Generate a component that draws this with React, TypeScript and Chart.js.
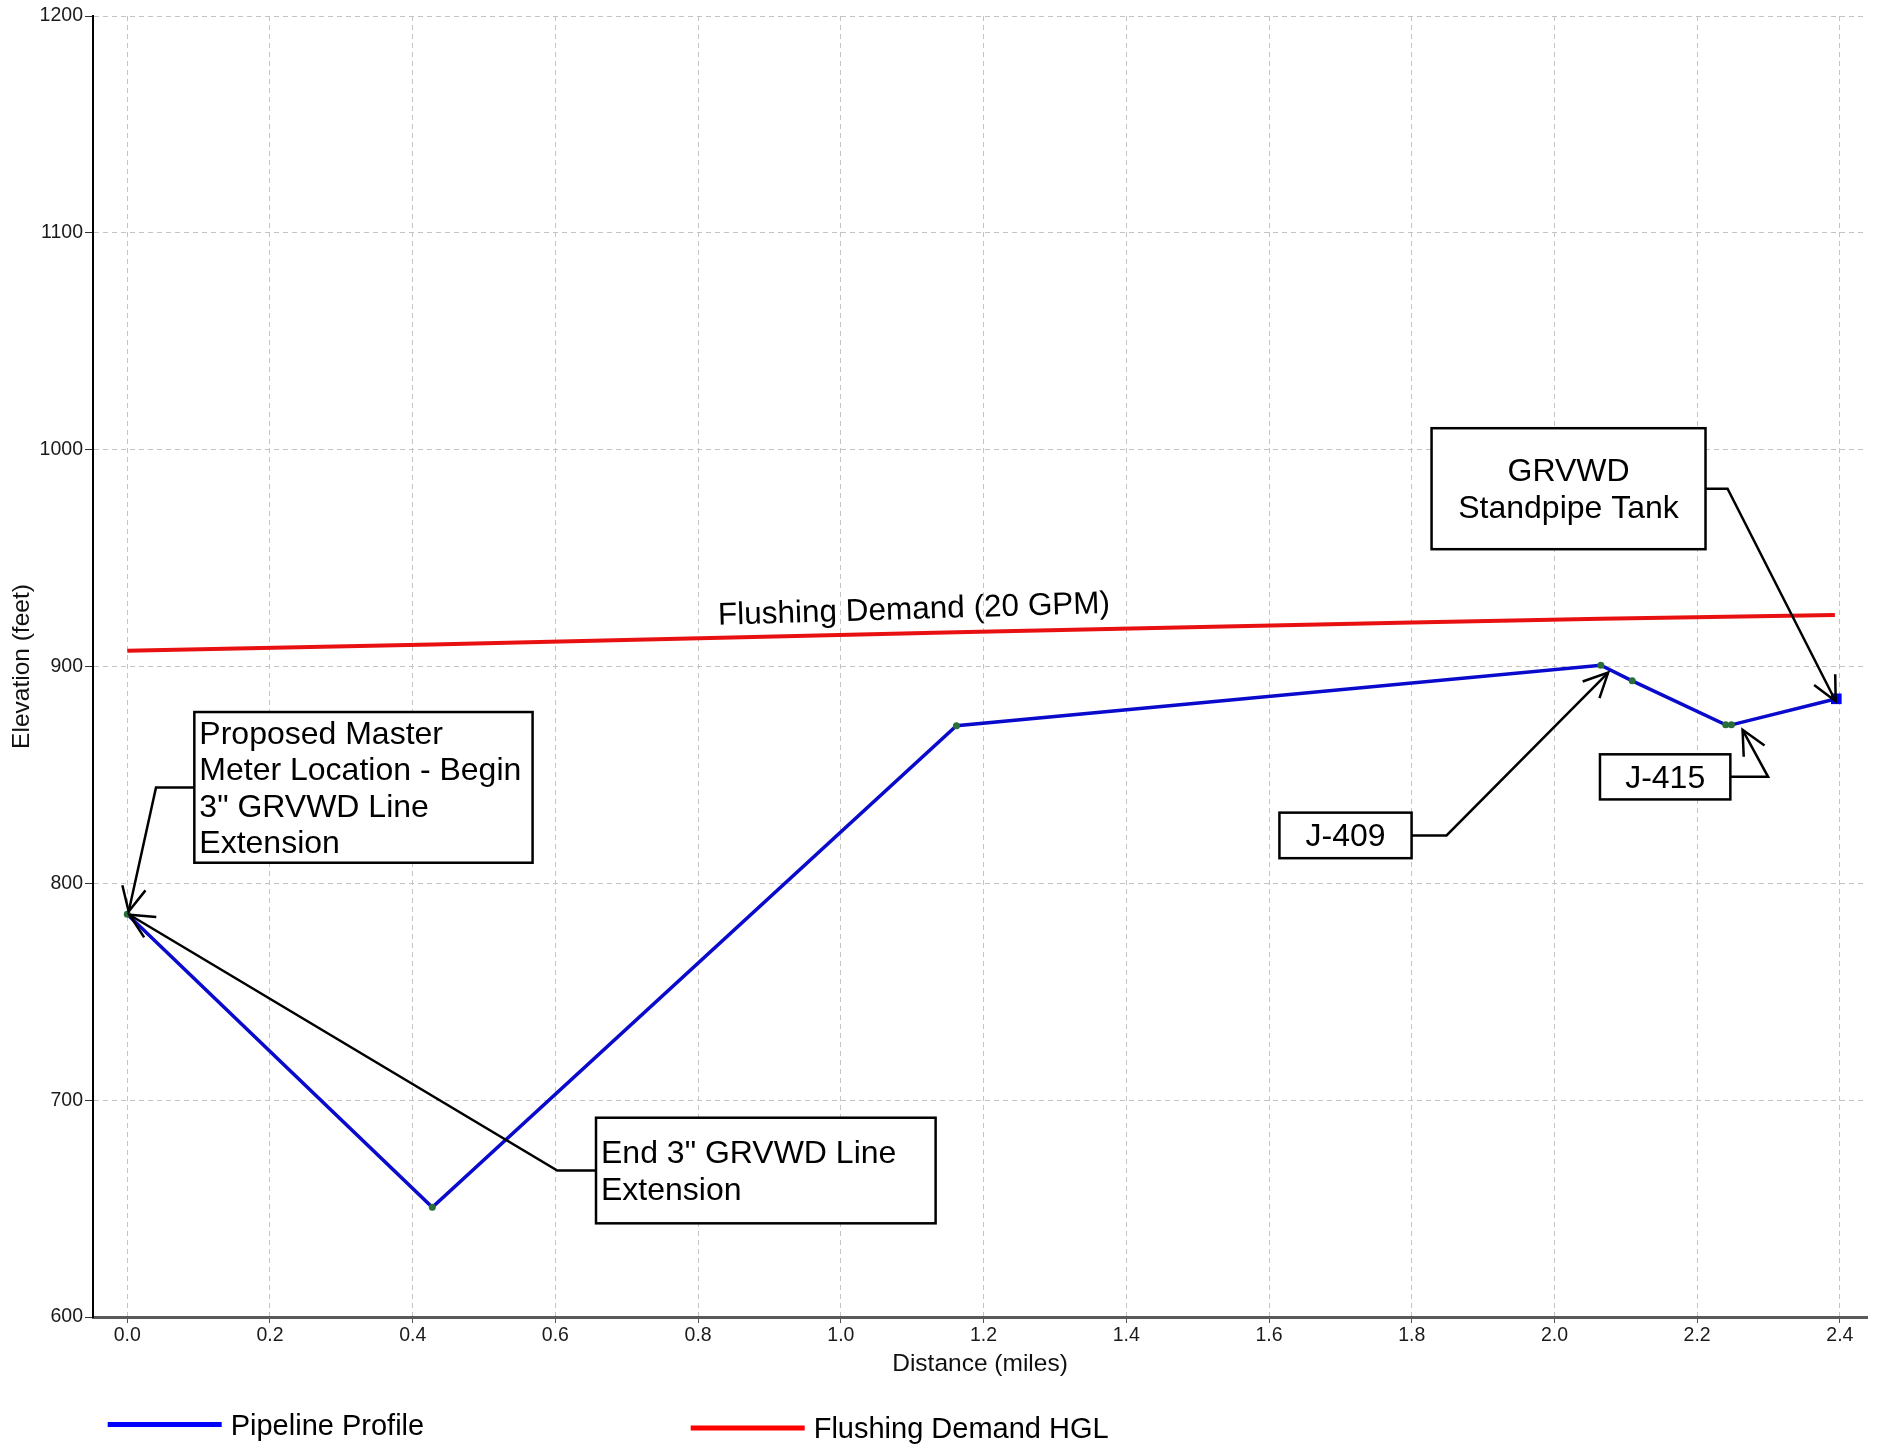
import React, { useEffect, useRef } from "react";
import { Chart, registerables } from "chart.js";

Chart.register(...registerables);

// ---- data ----
const profileDistance = [0, 0.4275, 1.162, 2.065, 2.109, 2.24, 2.248, 2.395];
const profileElevation = [785.7, 650.6, 872.7, 900.6, 893.4, 873.1, 873.1, 885.1];
const hglDistance = [0, 0.4275, 1.162, 1.783, 2.065, 2.393];
const hglElevation = [907.3, 910.2, 915.8, 920.2, 922.0, 923.8];
const xTickValues = [0, 0.2, 0.4, 0.6, 0.8, 1.0, 1.2, 1.4, 1.6, 1.8, 2.0, 2.2, 2.4];
const yTickValues = [600, 700, 800, 900, 1000, 1100, 1200];
const seriesNames = ["Pipeline Profile", "Flushing Demand HGL"];
const hglLabel = "Flushing Demand (20 GPM)";
const xTitle = "Distance (miles)";
const yTitle = "Elevation (feet)";

type Callout = {
  lines: string[];
  align: "left" | "center";
  x1: number;
  x2: number;
  yTop: number;
  yBottom: number;
  side: "left" | "right";
  elbowX: number;
  tipX: number;
  tipY: number;
};

// callouts placed in data units
const callouts: Callout[] = [
  {
    lines: ["Proposed Master", "Meter Location - Begin", '3" GRVWD Line', "Extension"],
    align: "left",
    x1: 0.094, x2: 0.568, yTop: 879, yBottom: 809.5,
    side: "left", elbowX: 0.0403, tipX: 0.002, tipY: 787,
  },
  {
    lines: ['End 3" GRVWD Line', "Extension"],
    align: "left",
    x1: 0.6569, x2: 1.1328, yTop: 691.9, yBottom: 643.2,
    side: "left", elbowX: 0.6026, tipX: 0.003, tipY: 785.5,
  },
  {
    lines: ["GRVWD", "Standpipe Tank"],
    align: "center",
    x1: 1.8278, x2: 2.2117, yTop: 1009.9, yBottom: 954.1,
    side: "right", elbowX: 2.2426, tipX: 2.3941, tipY: 884.0,
  },
  {
    lines: ["J-409"],
    align: "center",
    x1: 1.6146, x2: 1.7998, yTop: 832.6, yBottom: 811.6,
    side: "right", elbowX: 1.8488, tipX: 2.0753, tipY: 897.2,
  },
  {
    lines: ["J-415"],
    align: "center",
    x1: 2.0638, x2: 2.2465, yTop: 859.5, yBottom: 838.7,
    side: "right", elbowX: 2.2994, tipX: 2.2636, tipY: 870.8,
  },
];

const FONT = "'Liberation Sans', Arial, Helvetica, sans-serif";

function arrowhead(ctx: CanvasRenderingContext2D, fx: number, fy: number, tx: number, ty: number) {
  const a = Math.atan2(fy - ty, fx - tx);
  const len = 27;
  const ang = (26 * Math.PI) / 180;
  ctx.beginPath();
  ctx.moveTo(tx + len * Math.cos(a + ang), ty + len * Math.sin(a + ang));
  ctx.lineTo(tx, ty);
  ctx.lineTo(tx + len * Math.cos(a - ang), ty + len * Math.sin(a - ang));
  ctx.stroke();
}

const overlayPlugin = {
  id: "overlay",
  afterDatasetsDraw(chart: any) {
    const ctx: CanvasRenderingContext2D = chart.ctx;
    const xs = chart.scales.x;
    const ys = chart.scales.y;
    const px = (v: number) => xs.getPixelForValue(v);
    const py = (v: number) => ys.getPixelForValue(v);
    ctx.save();

    // HGL label
    ctx.save();
    ctx.translate(px(1.103), py(922.0));
    ctx.rotate((-1.75 * Math.PI) / 180);
    ctx.font = `31.5px ${FONT}`;
    ctx.fillStyle = "#000";
    ctx.textAlign = "center";
    ctx.textBaseline = "alphabetic";
    ctx.fillText(hglLabel, 0, 0);
    ctx.restore();

    // leaders
    ctx.strokeStyle = "#000";
    ctx.lineWidth = 2.5;
    ctx.lineJoin = "miter";
    ctx.lineCap = "butt";
    callouts.forEach((c) => {
      const L = px(c.x1), R = px(c.x2), T = py(c.yTop), B = py(c.yBottom);
      const midY = (T + B) / 2;
      const sx = c.side === "left" ? L : R;
      const ex = px(c.elbowX);
      const tx = px(c.tipX), ty = py(c.tipY);
      ctx.beginPath();
      ctx.moveTo(sx, midY);
      ctx.lineTo(ex, midY);
      ctx.lineTo(tx, ty);
      ctx.stroke();
      arrowhead(ctx, ex, midY, tx, ty);
    });

    // boxes + text
    callouts.forEach((c) => {
      const L = px(c.x1), R = px(c.x2), T = py(c.yTop), B = py(c.yBottom);
      ctx.fillStyle = "#fff";
      ctx.fillRect(L, T, R - L, B - T);
      ctx.strokeStyle = "#000";
      ctx.lineWidth = 2.5;
      ctx.strokeRect(L, T, R - L, B - T);
      ctx.fillStyle = "#000";
      ctx.font = `32px ${FONT}`;
      ctx.textBaseline = "alphabetic";
      const spacing = 36.4;
      const mid = (T + B) / 2 + 11;
      const first = mid - ((c.lines.length - 1) * spacing) / 2;
      c.lines.forEach((line, i) => {
        const yy = first + i * spacing;
        if (c.align === "left") {
          ctx.textAlign = "left";
          ctx.fillText(line, L + 5, yy);
        } else {
          ctx.textAlign = "center";
          ctx.fillText(line, (L + R) / 2, yy);
        }
      });
    });
    ctx.restore();
  },
  afterDraw(chart: any) {
    const ctx: CanvasRenderingContext2D = chart.ctx;
    const colors = ["#0000ff", "#ff0000"];
    const lineStart = [107.7, 690.7];
    const lineY = [1424.5, 1428];
    ctx.save();
    ctx.font = `29px ${FONT}`;
    ctx.textAlign = "left";
    ctx.textBaseline = "alphabetic";
    seriesNames.forEach((name, i) => {
      ctx.strokeStyle = colors[i];
      ctx.lineWidth = 5;
      ctx.beginPath();
      ctx.moveTo(lineStart[i], lineY[i]);
      ctx.lineTo(lineStart[i] + 114, lineY[i]);
      ctx.stroke();
      ctx.fillStyle = "#000";
      ctx.fillText(name, lineStart[i] + 123, lineY[i] + 10);
    });
    ctx.restore();
  },
};

export default function App() {
  const canvasRef = useRef<HTMLCanvasElement | null>(null);

  useEffect(() => {
    if (!canvasRef.current) return;
    const n = profileDistance.length;
    const chart = new Chart(canvasRef.current, {
      type: "line",
      data: {
        datasets: [
          {
            label: seriesNames[0],
            data: profileDistance.map((x, i) => ({ x, y: profileElevation[i] })),
            borderColor: "#0a0acc",
            borderWidth: 3.5,
            tension: 0,
            pointStyle: (c: any) => (c.dataIndex === n - 1 ? "rect" : "circle"),
            pointRadius: (c: any) => (c.dataIndex === n - 1 ? 7.5 : 3.5),
            pointBackgroundColor: (c: any) => (c.dataIndex === n - 1 ? "#0000ff" : "#2a6e3a"),
            pointBorderWidth: 0,
            order: 1,
          },
          {
            label: seriesNames[1],
            data: hglDistance.map((x, i) => ({ x, y: hglElevation[i] })),
            borderColor: "#e81010",
            borderWidth: 4,
            tension: 0,
            pointRadius: 0,
            order: 2,
          },
        ],
      },
      options: {
        animation: false,
        responsive: true,
        maintainAspectRatio: false,
        devicePixelRatio: 1,
        layout: { padding: { left: 0, top: 16, right: 10, bottom: 59 } },
        plugins: {
          legend: { display: false },
          tooltip: { enabled: false },
        },
        scales: {
          x: {
            type: "linear",
            min: -0.048,
            max: 2.438,
            afterBuildTicks: (s: any) => {
              s.ticks = xTickValues.map((v) => ({ value: v }));
            },
            afterFit: (s: any) => {
              s.height = 68;
            },
            ticks: {
              callback: (v: any) => Number(v).toFixed(1),
              font: { family: FONT, size: 19.5 },
              color: "#1a1a1a",
              padding: 1,
              maxRotation: 0,
              autoSkip: false,
            },
            grid: {
              color: "#c4c4c4",
              lineWidth: 1,
              tickLength: 6,
              tickColor: "#555",
            },
            border: { color: "#5a5a5a", width: 3, dash: [5, 4] },
            title: {
              display: true,
              text: xTitle,
              font: { family: FONT, size: 24.5 },
              color: "#111",
              padding: { top: 0, bottom: 6 },
            },
          },
          y: {
            type: "linear",
            min: 600,
            max: 1200,
            afterBuildTicks: (s: any) => {
              s.ticks = yTickValues.map((v) => ({ value: v }));
            },
            afterFit: (s: any) => {
              s.width = 93;
            },
            ticks: {
              callback: (v: any) => String(v),
              font: { family: FONT, size: 19.5 },
              color: "#1a1a1a",
              padding: 2,
            },
            grid: {
              color: "#c4c4c4",
              lineWidth: 1,
              tickLength: 8,
              tickColor: "#333",
            },
            border: { color: "#000", width: 2, dash: [5, 4] },
            title: {
              display: true,
              text: yTitle,
              font: { family: FONT, size: 24.5 },
              color: "#111",
              padding: { top: 8, bottom: 0 },
            },
          },
        },
      },
      plugins: [overlayPlugin],
    } as any);
    return () => chart.destroy();
  }, []);

  return (
    <div style={{ position: "absolute", left: 0, top: 0, width: "1877px", height: "1444px", background: "#fff" }}>
      <canvas ref={canvasRef} style={{ display: "block" }} />
    </div>
  );
}
